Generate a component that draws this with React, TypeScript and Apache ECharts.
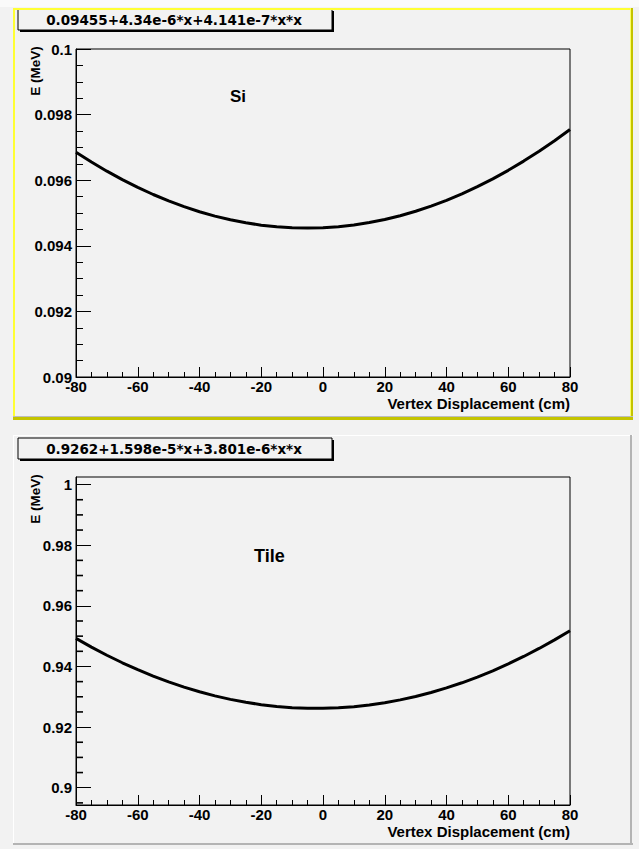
import React, { useEffect, useRef } from "react";
import * as echarts from "echarts";

// Vertex displacement (cm) sampled along the curves
const vertexX = [-80, -75, -70, -65, -60, -55, -50, -45, -40, -35, -30, -25, -20, -15, -10, -5, 0, 5, 10, 15, 20, 25, 30, 35, 40, 45, 50, 55, 60, 65, 70, 75, 80];

// Si energy (MeV)
const siEnergy = [0.096853, 0.096554, 0.096275, 0.096017, 0.09578, 0.095564, 0.095368, 0.095193, 0.095039, 0.094905, 0.094792, 0.0947, 0.094629, 0.094578, 0.094548, 0.094539, 0.09455, 0.094582, 0.094635, 0.094708, 0.094802, 0.094917, 0.095053, 0.095209, 0.095386, 0.095584, 0.095802, 0.096041, 0.096301, 0.096582, 0.096883, 0.097205, 0.097547];

// Tile energy (MeV)
const tileEnergy = [0.949248, 0.946383, 0.943706, 0.94122, 0.938925, 0.936819, 0.934904, 0.933178, 0.931642, 0.930297, 0.929142, 0.928176, 0.927401, 0.926816, 0.92642, 0.926215, 0.9262, 0.926375, 0.92674, 0.927295, 0.92804, 0.928975, 0.9301, 0.931416, 0.932921, 0.934616, 0.936502, 0.938577, 0.940843, 0.943298, 0.945944, 0.94878, 0.951804];

const tileMajorTicks = [0.9, 0.92, 0.94, 0.96, 0.98, 1.0];
const tileMinorTicks = [0.895, 0.905, 0.91, 0.915, 0.925, 0.93, 0.935, 0.945, 0.95, 0.955, 0.965, 0.97, 0.975, 0.985, 0.99, 0.995];

const siTitle = "0.09455+4.34e-6*x+4.141e-7*x*x";
const tileTitle = "0.9262+1.598e-5*x+3.801e-6*x*x";
const siLabel = "Si";
const tileLabel = "Tile";
const yName = "E (MeV)";
const xName = "Vertex Displacement (cm)";

const LABEL_FONT = {
  fontFamily: "Liberation Sans, Arial, sans-serif",
  fontWeight: "bold" as const,
  fontSize: 15,
  color: "#000",
};

function fmt(v: number) {
  return String(+v.toFixed(4));
}

function xAxisDef(gridIndex: number) {
  return {
    type: "value",
    gridIndex,
    min: -80,
    max: 80,
    interval: 20,
    axisLine: { show: true, onZero: false, lineStyle: { color: "#000", width: 1 } },
    axisTick: { show: true, inside: true, length: 10, lineStyle: { color: "#000", width: 1 } },
    minorTick: { show: true, splitNumber: 4, length: 5, lineStyle: { color: "#000", width: 1 } },
    axisLabel: { ...LABEL_FONT, margin: 2, formatter: (v: number) => fmt(v) },
    splitLine: { show: false },
    minorSplitLine: { show: false },
  };
}

const GRID_W = 494;
const GRID_H = 328;
const GRID_L = 76;
const TOP1 = 49;
const TOP2 = 477;

function panelDecor(top: number, bottom: number, selected: boolean) {
  const left = 13;
  const right = 633;
  const els: any[] = [];
  if (selected) {
    els.push({ type: "rect", shape: { x: left, y: top, width: 2, height: bottom - top }, style: { fill: "#ffff33" }, z: 10 });
    els.push({ type: "rect", shape: { x: left, y: top, width: right - left, height: 2 }, style: { fill: "#ffff33" }, z: 10 });
    els.push({ type: "rect", shape: { x: right - 3, y: top, width: 1, height: bottom - top }, style: { fill: "#ffff66" }, z: 10 });
    els.push({ type: "rect", shape: { x: right - 2, y: top, width: 2, height: bottom - top + 1 }, style: { fill: "#c4c400" }, z: 10 });
    els.push({ type: "rect", shape: { x: left, y: bottom - 3, width: right - left, height: 1 }, style: { fill: "#bdbdbd" }, z: 10 });
    els.push({ type: "rect", shape: { x: left, y: bottom - 2, width: right - left, height: 3 }, style: { fill: "#c4c400" }, z: 10 });
  } else {
    els.push({ type: "rect", shape: { x: left, y: top, width: 1, height: bottom - top }, style: { fill: "#ffffff" }, z: 10 });
    els.push({ type: "rect", shape: { x: left, y: top, width: right - left, height: 1 }, style: { fill: "#ffffff" }, z: 10 });
    els.push({ type: "rect", shape: { x: right - 3, y: top, width: 2, height: bottom - top }, style: { fill: "#b4b4b4" }, z: 10 });
    els.push({ type: "rect", shape: { x: left, y: bottom - 2, width: right - left, height: 2 }, style: { fill: "#b4b4b4" }, z: 10 });
  }
  return els;
}

function titleBox(y: number, text: string) {
  const x = 18;
  const w = 314;
  const h = 21;
  return [
    { type: "rect", shape: { x, y, width: w, height: h }, style: { fill: "#f2f2f2", stroke: "#000", lineWidth: 1 }, z: 5 },
    { type: "rect", shape: { x: x + 2, y: y + h, width: w, height: 2 }, style: { fill: "#000" }, z: 5 },
    { type: "rect", shape: { x: x + w, y: y + 2, width: 2, height: h }, style: { fill: "#000" }, z: 5 },
    {
      type: "text",
      x: x + w / 2 - 1,
      y: y + h / 2 + 0.5,
      z: 6,
      style: {
        text,
        fontFamily: "DejaVu Sans, sans-serif",
        fontWeight: "bold",
        fontSize: 13.5,
        fill: "#000",
        textAlign: "center",
        textVerticalAlign: "middle",
      },
    },
  ];
}

function plotTexts(gridTop: number, label: string, labelX: number, labelY: number, labelSize: number) {
  return [
    {
      type: "text",
      x: labelX,
      y: labelY,
      z: 6,
      style: { text: label, fontFamily: "Liberation Sans, Arial, sans-serif", fontWeight: "bold", fontSize: labelSize, fill: "#000", textAlign: "left", textVerticalAlign: "middle" },
    },
    {
      type: "text",
      x: 35,
      y: gridTop + 22,
      rotation: Math.PI / 2,
      z: 6,
      style: { text: yName, fontFamily: "Liberation Sans, Arial, sans-serif", fontWeight: "bold", fontSize: 13.5, fill: "#000", textAlign: "center", textVerticalAlign: "middle" },
    },
    {
      type: "text",
      x: GRID_L + GRID_W,
      y: gridTop + GRID_H + 26,
      z: 6,
      style: { text: xName, fontFamily: "Liberation Sans, Arial, sans-serif", fontWeight: "bold", fontSize: 15, fill: "#000", textAlign: "right", textVerticalAlign: "middle" },
    },
  ];
}

export default function App() {
  const ref = useRef<HTMLDivElement>(null);

  useEffect(() => {
    document.body.style.margin = "0";
    if (!ref.current) return;
    const chart = echarts.init(ref.current, undefined, { renderer: "svg" });

    const siData = vertexX.map((x, i) => [x, siEnergy[i]]);
    const tileData = vertexX.map((x, i) => [x, tileEnergy[i]]);
    const minorTickData = tileMinorTicks.map((v) => [-80, v]);

    const gridBase = {
      left: GRID_L,
      width: GRID_W,
      height: GRID_H,
      show: true,
      borderColor: "#000",
      borderWidth: 1,
      backgroundColor: "transparent",
      containLabel: false,
      outerBoundsMode: "none",
    };

    const option: any = {
      animation: false,
      backgroundColor: "#f2f2f2",
      grid: [
        { ...gridBase, top: TOP1 },
        { ...gridBase, top: TOP2 },
      ],
      xAxis: [xAxisDef(0), xAxisDef(1)],
      yAxis: [
        {
          type: "value",
          gridIndex: 0,
          min: 0.09,
          max: 0.1,
          interval: 0.002,
          axisLine: { show: true, onZero: false, lineStyle: { color: "#000", width: 1 } },
          axisTick: { show: true, inside: true, length: 15, lineStyle: { color: "#000", width: 1 } },
          minorTick: { show: true, splitNumber: 4, length: 7, lineStyle: { color: "#000", width: 1 } },
          axisLabel: { ...LABEL_FONT, margin: 4, formatter: (v: number) => fmt(v) },
          splitLine: { show: false },
          minorSplitLine: { show: false },
        },
        {
          type: "value",
          gridIndex: 1,
          min: 0.8943,
          max: 1.0025,
          axisLine: { show: true, onZero: false, lineStyle: { color: "#000", width: 1 } },
          axisTick: { show: true, inside: true, length: 15, customValues: tileMajorTicks, lineStyle: { color: "#000", width: 1 } },
          axisLabel: { ...LABEL_FONT, margin: 4, customValues: tileMajorTicks, formatter: (v: number) => fmt(v) },
          splitLine: { show: false },
        },
      ],
      series: [
        {
          type: "line",
          xAxisIndex: 0,
          yAxisIndex: 0,
          data: siData,
          showSymbol: false,
          symbol: "none",
          clip: true,
          lineStyle: { color: "#000", width: 3 },
          z: 3,
        },
        {
          type: "line",
          xAxisIndex: 1,
          yAxisIndex: 1,
          data: tileData,
          showSymbol: false,
          symbol: "none",
          clip: true,
          lineStyle: { color: "#000", width: 3 },
          z: 3,
        },
        {
          // minor ticks of the Tile energy axis, drawn as short dashes at the axis
          type: "line",
          xAxisIndex: 1,
          yAxisIndex: 1,
          data: minorTickData,
          showSymbol: true,
          symbol: "rect",
          symbolSize: [7, 1.6],
          symbolOffset: [3.5, 0],
          itemStyle: { color: "#000" },
          lineStyle: { width: 0, opacity: 0 },
          silent: true,
          clip: false,
          z: 5,
        },
      ],
      graphic: [
        { type: "rect", shape: { x: 0, y: 0, width: 639, height: 7 }, style: { fill: "#fafafa" }, z: 1 },
        ...titleBox(9, siTitle),
        ...titleBox(438, tileTitle),
        ...panelDecor(8, 419, true),
        ...panelDecor(435, 845, false),
        ...plotTexts(TOP1, siLabel, 230, 96, 17),
        ...plotTexts(TOP2, tileLabel, 254, 556, 18),
      ],
    };

    chart.setOption(option);
    return () => {
      chart.dispose();
    };
  }, []);

  return (
    <div
      ref={ref}
      style={{ position: "absolute", left: 0, top: 0, width: 639, height: 849 }}
    />
  );
}
